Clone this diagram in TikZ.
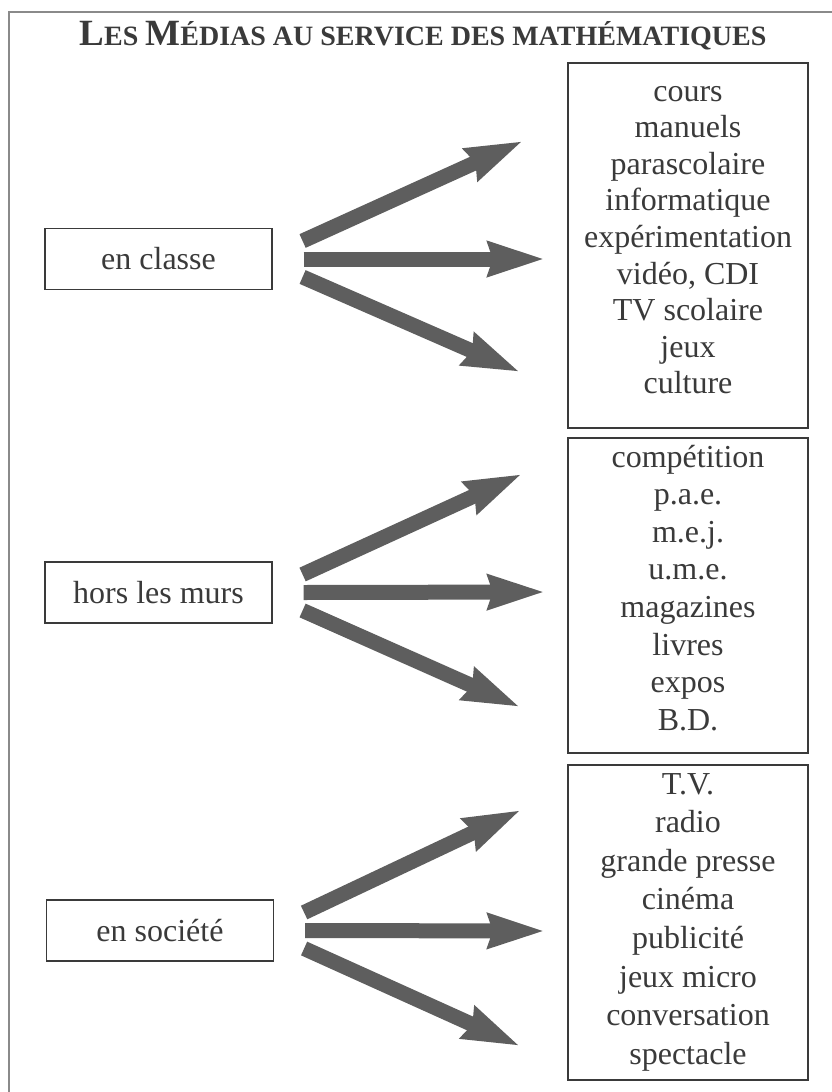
\documentclass[tikz,border=0pt]{standalone}
\usepackage{fontspec}
\setmainfont{Liberation Serif}
\usetikzlibrary{arrows.meta}
\definecolor{ink}{HTML}{3A3A3A}
\definecolor{arrowgray}{HTML}{5E5E5E}
\definecolor{framegray}{HTML}{8A8A8A}
\newcommand{\bigsc}{\fontsize{37}{37}\selectfont}
\newcommand{\smallsc}{\fontsize{28}{28}\selectfont}
\begin{document}
\begin{tikzpicture}[x=1pt,y=-1pt,
  txt/.style={text=ink,font=\fontsize{32}{36}\selectfont,inner sep=0pt},
  leftbox/.style={draw=ink,line width=1.2pt,minimum width=227pt,minimum height=61pt,
    text=ink,font=\fontsize{32}{36}\selectfont},
  rightbox/.style={draw=ink,line width=1.2pt,minimum width=240pt},
  fat/.style={draw=arrowgray,line width=15pt,-{Stealth[length=56pt,width=33pt,inset=4pt]}}
]
\useasboundingbox (0,0) rectangle (832,1092);
\fill[white] (0,0) rectangle (832,1092);
\draw[framegray,line width=1.5pt] (9,1092) -- (9,12) -- (832,12);

\node[text=ink,inner sep=0pt,anchor=base] (title) at (423,45)
  {\bfseries\bigsc L\smallsc ES \bigsc M\smallsc ÉDIAS AU SERVICE DES MATHÉMATIQUES};

% left boxes
\node[leftbox] (l1) at (158.5,259) {en classe};
\node[leftbox] (l2) at (158.5,592.5) {hors les murs};
\node[leftbox] (l3) at (160,930.5) {en société};

% right boxes
\node[rightbox,minimum height=365pt] (r1) at (688,245.5) {};
\node[rightbox,minimum height=315pt] (r2) at (688,595.5) {};
\node[rightbox,minimum height=315pt] (r3) at (688,922.5) {};

\foreach \t [count=\i from 0] in {cours,manuels,parascolaire,informatique,expérimentation,{vidéo, CDI},TV scolaire,jeux,culture}
  \node[txt,anchor=base] (r1t\i) at (688,{101+36.6*\i}) {\t};
\foreach \t [count=\i from 0] in {compétition,p.a.e.,m.e.j.,u.m.e.,magazines,livres,expos,B.D.}
  \node[txt,anchor=base] (r2t\i) at (688,{467+37.6*\i}) {\t};
\foreach \t [count=\i from 0] in {T.V.,radio,grande presse,cinéma,publicité,jeux micro,conversation,spectacle}
  \node[txt,anchor=base] (r3t\i) at (688,{794+38.6*\i}) {\t};

% arrow tips
\coordinate (a1u) at (523,141);
\coordinate (a1m) at (545,259);
\coordinate (a1d) at (520,372);
\coordinate (a2u) at (522,474);
\coordinate (a2m) at (545,592);
\coordinate (a2d) at (520,707);
\coordinate (a3u) at (521,810);
\coordinate (a3m) at (545,931);
\coordinate (a3d) at (520,1046);

\foreach \k in {1,2,3}{
  \draw[fat] ([xshift=30pt,yshift=18pt]l\k.east) -- (a\k u);
  \draw[fat] ([xshift=31pt]l\k.east) -- (a\k m);
  \draw[fat] ([xshift=30pt,yshift=-18pt]l\k.east) -- (a\k d);
}
\end{tikzpicture}
\end{document}
